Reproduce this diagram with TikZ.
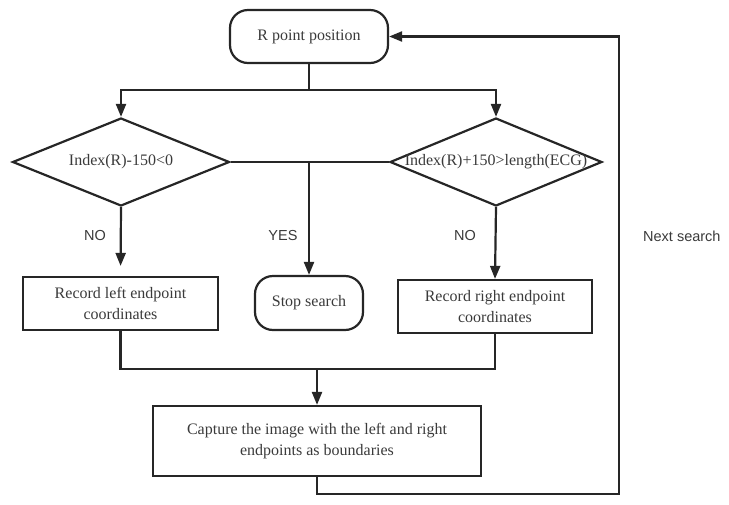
\documentclass[tikz,border=0pt]{standalone}
\usepackage{fontspec}
\setmainfont{Liberation Serif}
\newfontfamily\labelfont{Liberation Sans}
\usetikzlibrary{arrows.meta,shapes.geometric}
\definecolor{linec}{HTML}{262626}
\definecolor{textc}{HTML}{3A3A3A}
\tikzset{
  conn/.style={draw=linec, line width=2.2pt},
  arr/.style={conn, -{Triangle[length=13pt,width=10pt]}},
  boxnode/.style={draw=linec, line width=2.2pt, inner sep=0pt, align=center, text=textc, font=\fontsize{16}{21}\selectfont},
  roundnode/.style={boxnode, rounded corners=18pt},
  dianode/.style={draw=linec, line width=2.2pt, diamond, inner sep=0pt},
  dtext/.style={inner sep=0pt, text=textc, font=\fontsize{16}{21}\selectfont},
  lbl/.style={inner sep=0pt, text=textc, font=\labelfont\fontsize{14.5}{17}\selectfont}
}
\begin{document}
\begin{tikzpicture}[x=1pt,y=-1pt]
\useasboundingbox (0,0) rectangle (729,504);

\node[roundnode, minimum width=158pt, minimum height=53pt] (top) at (309,36.5) {R point position};

\node[dianode, minimum width=217pt, minimum height=88pt] (d1) at (121,162) {};
\node[dtext] (d1t) at (d1.center) {Index(R)-150<0};
\node[dianode, minimum width=212pt, minimum height=88pt] (d2) at (496,162) {};
\node[dtext] (d2t) at (d2.center) {Index(R)+150>length(ECG)};

\node[boxnode, minimum width=195pt, minimum height=53pt] (rl) at (120.5,303.5) {Record left endpoint\\coordinates};
\node[roundnode, minimum width=108pt, minimum height=54pt] (stop) at (309,303) {Stop search};
\node[boxnode, minimum width=194pt, minimum height=53pt] (rr) at (495,306.5) {Record right endpoint\\coordinates};
\node[boxnode, minimum width=328pt, minimum height=70pt] (cap) at (317,441) {Capture the image with the left and right\\endpoints as boundaries};

\node[lbl] (no1) at (95,236) {NO};
\node[lbl] (yes) at (283,236) {YES};
\node[lbl] (no2) at (465,236) {NO};
\node[lbl, anchor=west] (next) at (643,236) {Next search};

% split from top
\coordinate (s1) at (309,90);
\draw[conn] (top.south) -- (s1);
\draw[arr] (s1) -| (d1.north);
\draw[arr] (s1) -| (d2.north);

% yes branch
\draw[conn] (d1.east) -- (d2.west);
\coordinate (j) at (stop.north |- d1.east);
\draw[arr] (j) -- (stop.north);

% no branches
\draw[arr, shorten >=10pt] (d1.south) -- (rl.north);
\draw[arr] (d2.south) -- (rr.north);

% merge
\coordinate (m1) at (rl.south |- 0,369);
\coordinate (m2) at (rr.south |- 0,369);
\coordinate (m3) at (cap.north |- 0,369);
\draw[conn] (rl.south) -- (m1) -- (m2) -- (rr.south);
\draw[arr] (m3) -- (cap.north);

% loop back
\coordinate (b1) at (cap.south |- 0,494);
\coordinate (b2) at (619,494);
\coordinate (b3) at (619,36.5);
\draw[arr] (cap.south) -- (b1) -- (b2) -- (b3) -- (top.east);
\end{tikzpicture}
\end{document}
